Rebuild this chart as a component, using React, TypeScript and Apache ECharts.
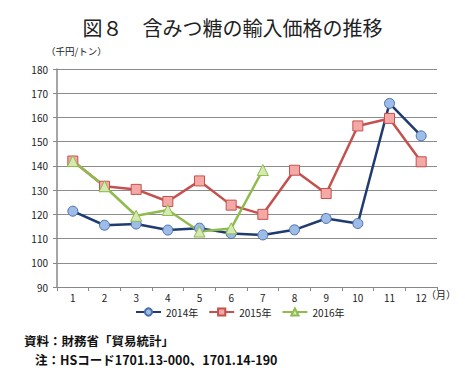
import React, { useEffect, useRef } from "react";
import * as echarts from "echarts";

const months = ["1", "2", "3", "4", "5", "6", "7", "8", "9", "10", "11", "12"];
const s2014 = [121.3, 115.5, 116, 113.5, 114.3, 112.1, 111.5, 113.6, 118.3, 116.2, 165.8, 152.4];
const s2015 = [142, 131.6, 130.3, 125.3, 133.8, 123.8, 120, 138.2, 128.6, 156.5, 159.6, 141.7];
const s2016 = [142, 131.6, 119.4, 121.8, 112.9, 114.2, 138.3];
const seriesNames = ["2014年", "2015年", "2016年"];
const yTicks = { min: 90, max: 180, interval: 10 };

const FONT = "'Noto Sans CJK JP', 'Noto Sans', sans-serif";

export default function App() {
  const ref = useRef<HTMLDivElement>(null);
  useEffect(() => {
    if (!ref.current) return;
    const chart = echarts.init(ref.current, null, { renderer: "svg" });
    chart.setOption({
      animation: false,
      backgroundColor: "#ffffff",
      textStyle: { fontFamily: FONT },
      title: {
        text: "図８　含みつ糖の輸入価格の推移",
        left: "center",
        top: 12,
        textStyle: { fontFamily: FONT, fontSize: 20, fontWeight: "normal", color: "#222" },
      },
      grid: { left: 57, right: 28, top: 69, bottom: 83 },
      legend: {
        data: seriesNames,
        top: 302,
        left: 130,
        itemWidth: 25,
        itemHeight: 9,
        itemGap: 10,
        textStyle: { fontFamily: FONT, fontSize: 10, color: "#222" },
      },
      xAxis: {
        type: "category",
        data: months,
        boundaryGap: true,
        axisLine: { lineStyle: { color: "#888", width: 1 } },
        axisTick: { show: true, length: 4, lineStyle: { color: "#888" } },
        axisLabel: { fontSize: 10, color: "#222", margin: 5 },
      },
      yAxis: {
        type: "value",
        min: yTicks.min,
        max: yTicks.max,
        interval: yTicks.interval,
        axisLine: { show: true, lineStyle: { color: "#888", width: 1.5 } },
        axisTick: { show: true, length: 4, lineStyle: { color: "#888" } },
        axisLabel: { fontSize: 10, color: "#222", margin: 9 },
        splitLine: { lineStyle: { color: "#8c8c8c", width: 1 } },
      },
      graphic: [
        {
          type: "text",
          left: 46,
          top: 46,
          style: { text: "（千円/トン）", font: `9.5px ${FONT}`, fill: "#222" },
        },
        {
          type: "text",
          left: 426,
          top: 289,
          style: { text: "（月）", font: `10px ${FONT}`, fill: "#222" },
        },
        {
          type: "text",
          left: 24,
          top: 334,
          style: { text: "資料：財務省「貿易統計」", font: `bold 12.5px ${FONT}`, fill: "#111" },
        },
        {
          type: "text",
          left: 35,
          top: 353,
          style: { text: "注：HSコード1701.13-000、1701.14-190", font: `bold 12.5px ${FONT}`, fill: "#111" },
        },
      ],
      series: [
        {
          name: seriesNames[0],
          type: "line",
          data: s2014,
          symbol: "circle",
          symbolSize: 10,
          lineStyle: { color: "#1f3b70", width: 2.5 },
          itemStyle: { color: "#9dbde8", borderColor: "#4a6fa8", borderWidth: 1 },
        },
        {
          name: seriesNames[1],
          type: "line",
          data: s2015,
          symbol: "rect",
          symbolSize: 10,
          lineStyle: { color: "#c4514e", width: 2.5 },
          itemStyle: { color: "#f5a9a6", borderColor: "#c4514e", borderWidth: 1 },
        },
        {
          name: seriesNames[2],
          type: "line",
          data: s2016,
          symbol: "triangle",
          symbolSize: 11,
          lineStyle: { color: "#8fbb4f", width: 2.5 },
          itemStyle: { color: "#d4eab0", borderColor: "#8fbb4f", borderWidth: 1 },
        },
      ],
    });
    return () => chart.dispose();
  }, []);
  return <div ref={ref} style={{ width: 465, height: 370, position: "absolute", left: 0, top: 0 }} />;
}
